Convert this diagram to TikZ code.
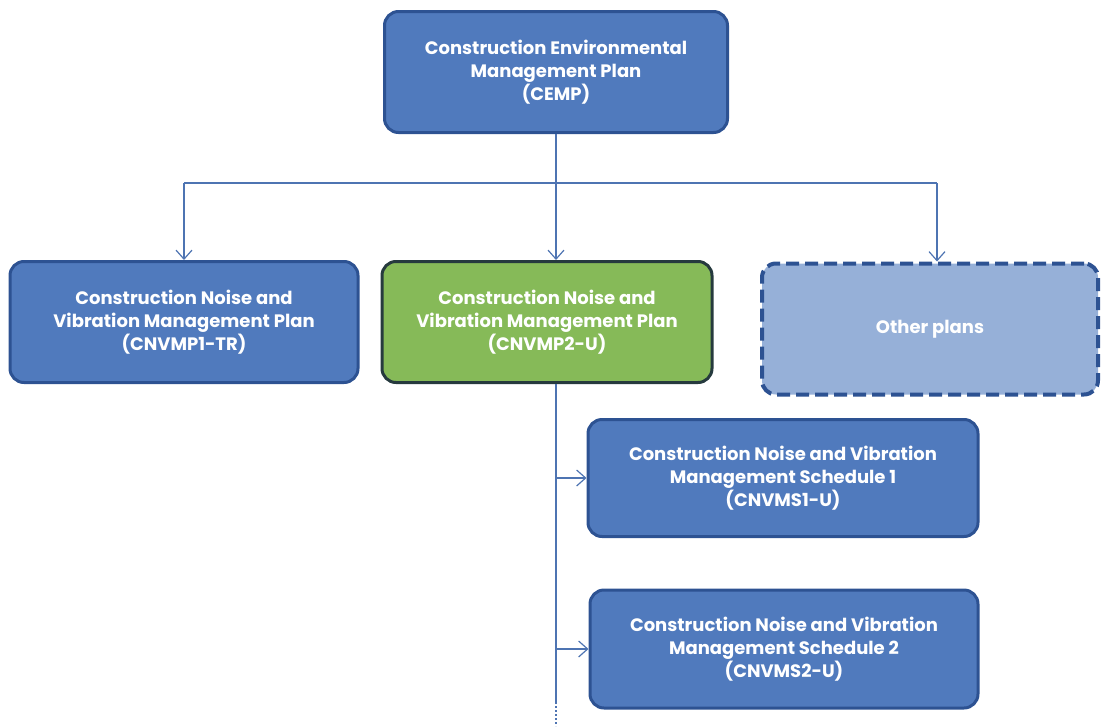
\documentclass[tikz,border=0pt]{standalone}
\usepackage{fontspec}
\setmainfont{Poppins}
\usetikzlibrary{arrows.meta}

\definecolor{boxblue}{RGB}{80,122,189}
\definecolor{edgeblue}{RGB}{45,82,146}
\definecolor{boxgreen}{RGB}{134,186,88}
\definecolor{edgegreen}{RGB}{38,58,62}
\definecolor{paleblue}{RGB}{150,176,216}
\definecolor{lineblue}{RGB}{78,116,178}

\tikzset{
  plan/.style={draw=edgeblue, line width=3pt, fill=boxblue, rounded corners=14pt,
    text=white, align=center, inner sep=0pt,
    font=\bfseries\fontsize{18}{23}\selectfont},
  link/.style={draw=lineblue, line width=1.4pt,
    -{Straight Barb[length=9pt,width=16pt,line width=1.2pt]}}
}

\begin{document}
\begin{tikzpicture}[x=1pt,y=-1pt]
  \useasboundingbox (0,0) rectangle (1101,726);

  % top level
  \node[plan, minimum width=343pt, minimum height=121pt] (cemp) at (556,72)
    {Construction Environmental\\Management Plan\\(CEMP)};

  % second level
  \node[plan, minimum width=348pt, minimum height=121pt] (cnvmp1) at (184,322)
    {Construction Noise and\\Vibration Management Plan\\(CNVMP1-TR)};
  \node[plan, draw=edgegreen, fill=boxgreen, minimum width=330pt, minimum height=121pt] (cnvmp2) at (547,322)
    {Construction Noise and\\Vibration Management Plan\\(CNVMP2-U)};
  \node[plan, line width=4pt, dash pattern=on 13pt off 6pt, fill=paleblue, minimum width=336pt, minimum height=131pt] (other) at (930,329)
    {Other plans};

  % schedules
  \node[plan, minimum width=390pt, minimum height=117pt] (sched1) at (783,478)
    {Construction Noise and Vibration\\Management Schedule 1\\(CNVMS1-U)};
  \node[plan, minimum width=388pt, minimum height=118pt] (sched2) at (784,649)
    {Construction Noise and Vibration\\Management Schedule 2\\(CNVMS2-U)};

  % connectors from the CEMP
  \coordinate (split) at (556,183);
  \draw[draw=lineblue, line width=1.4pt] (cemp.south -| split) -- (split);
  \draw[draw=lineblue, line width=1.4pt] (split -| cnvmp1.north) -- (937,183);
  \draw[link] (split -| cnvmp1.north) -- (cnvmp1.north);
  \draw[link] (split) -- (split |- cnvmp2.north);
  \draw[link] (937,183) coordinate (turn) -- (turn |- other.north);

  % connectors to the schedules
  \coordinate (tail) at (556,702);
  \draw[draw=lineblue, line width=1.4pt] (cnvmp2.south -| split) -- (tail);
  \draw[draw=lineblue, line width=1.4pt, dash pattern=on 2pt off 2pt] (tail) -- (556,726);
  \draw[link] (sched1.west -| tail) -- (sched1.west);
  \draw[link] (sched2.west -| tail) -- (sched2.west);
\end{tikzpicture}
\end{document}
